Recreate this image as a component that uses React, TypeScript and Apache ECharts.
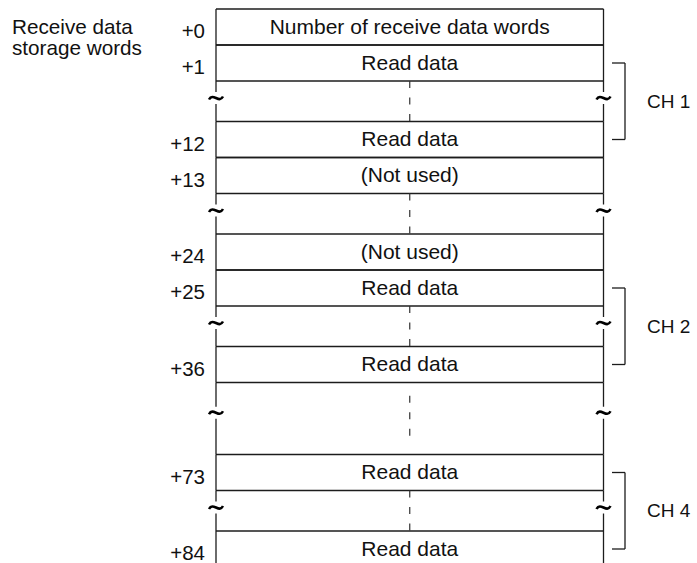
import React, { useEffect, useRef } from 'react';
import * as echarts from 'echarts';

// Word offsets and contents of the receive data storage area
const wordOffsets = ['+0', '+1', '+12', '+13', '+24', '+25', '+36', '+73', '+84'];
const rowTexts = [
  'Number of receive data words',
  'Read data',
  'Read data',
  '(Not used)',
  '(Not used)',
  'Read data',
  'Read data',
  'Read data',
  'Read data',
];
// height (in word rows) of the omitted block that precedes each row
const gapBefore = [0, 0, 1.125, 0, 1.125, 0, 1.125, 2, 1.125];
// channel brackets: first and last row index covered
const channelNames = ['CH 1', 'CH 2', 'CH 4'];
const channelFirstRow = [1, 5, 7];
const channelLastRow = [2, 6, 8];
const sideTitle = ['Receive data', 'storage words'];

const FONT = '"Liberation Sans", Arial, Helvetica, sans-serif';
const FS = 21;
const INK = '#111111';
const LINE = '#1c1c1c';
const LW = 1.3;

export default function App() {
  const ref = useRef<HTMLDivElement>(null);

  useEffect(() => {
    if (!ref.current) return;
    const chart = echarts.init(ref.current, undefined, { renderer: 'svg' });

    let pos = 0;
    const rows: number[][] = wordOffsets.map((_, i) => {
      pos += gapBefore[i];
      const s = pos;
      pos += 1;
      return [s, s + 1, i];
    });
    const gaps: number[][] = [];
    gapBefore.forEach((g, i) => {
      if (g > 0) gaps.push([rows[i][0] - g, rows[i][0]]);
    });
    const brackets = channelNames.map((_, k) => [
      rows[channelFirstRow[k]][0] + 0.5,
      rows[channelLastRow[k]][0] + 0.5,
      k,
    ]);

    const ln = (x1: number, y1: number, x2: number, y2: number, extra: any = {}) => ({
      type: 'line',
      shape: { x1, y1, x2, y2 },
      style: { stroke: LINE, lineWidth: LW, ...extra },
    });

    const option: any = {
      animation: false,
      title: {
        text: sideTitle.join('\n'),
        left: 12,
        top: 16,
        padding: 0,
        textStyle: {
          fontFamily: FONT,
          fontSize: 20.7,
          fontWeight: 'normal',
          color: INK,
          lineHeight: 21,
        },
      },
      grid: { left: 216, right: 93.5, top: 9, bottom: 0 },
      xAxis: { type: 'value', min: 0, max: 1, show: false },
      yAxis: { type: 'value', min: 0, max: 554 / 36, inverse: true, show: false },
      series: [
        {
          type: 'custom',
          clip: false,
          silent: true,
          data: rows,
          renderItem: (params: any, api: any) => {
            const s = api.value(0);
            const e = api.value(1);
            const i = api.value(2);
            const tl = api.coord([0, s]);
            const br = api.coord([1, e]);
            const x0 = tl[0], y0 = tl[1], x1 = br[0], y1 = br[1];
            const ym = (y0 + y1) / 2;
            return {
              type: 'group',
              children: [
                ln(x0, y0, x1, y0),
                ln(x0, y1, x1, y1),
                ln(x0, y0, x0, y1),
                ln(x1, y0, x1, y1),
                {
                  type: 'text',
                  style: {
                    text: rowTexts[i],
                    x: (x0 + x1) / 2,
                    y: ym - 1,
                    align: 'center',
                    verticalAlign: 'middle',
                    fontFamily: FONT,
                    fontSize: FS,
                    fill: INK,
                  },
                },
                {
                  type: 'text',
                  style: {
                    text: wordOffsets[i],
                    x: x0 - 11,
                    y: ym + 3.5,
                    align: 'right',
                    verticalAlign: 'middle',
                    fontFamily: FONT,
                    fontSize: 20.5,
                    fill: INK,
                  },
                },
              ],
            };
          },
        },
        {
          type: 'custom',
          clip: false,
          silent: true,
          data: gaps,
          renderItem: (params: any, api: any) => {
            const tl = api.coord([0, api.value(0)]);
            const br = api.coord([1, api.value(1)]);
            const x0 = tl[0], y0 = tl[1], x1 = br[0], y1 = br[1];
            const ty = y0 + (y1 - y0) * 0.42;
            const children: any[] = [];
            [x0, x1].forEach((x) => {
              children.push(ln(x, y0, x, ty - 6));
              children.push(ln(x, ty + 6, x, y1));
              children.push({
                type: 'bezierCurve',
                shape: {
                  x1: x - 7, y1: ty + 1.5,
                  cpx1: x - 3, cpy1: ty - 6,
                  cpx2: x + 3, cpy2: ty + 6,
                  x2: x + 7, y2: ty - 1.5,
                },
                style: { stroke: '#000', lineWidth: 2.6, fill: null },
              });
            });
            const xm = (x0 + x1) / 2;
            children.push(
              ln(xm, Math.max(y0, ty - 17), xm, Math.min(y1, ty + 24), {
                lineDash: [7, 9.5],
                lineWidth: 1.2,
                stroke: '#333',
              })
            );
            return { type: 'group', children };
          },
        },
        {
          type: 'custom',
          clip: false,
          silent: true,
          data: brackets,
          renderItem: (params: any, api: any) => {
            const a = api.coord([1, api.value(0)]);
            const b = api.coord([1, api.value(1)]);
            const k = api.value(2);
            const xr = a[0];
            const ya = a[1], yb = b[1];
            return {
              type: 'group',
              children: [
                ln(xr + 8.5, ya, xr + 21.5, ya),
                ln(xr + 21.5, ya, xr + 21.5, yb),
                ln(xr + 8.5, yb, xr + 21.5, yb),
                {
                  type: 'text',
                  style: {
                    text: channelNames[k],
                    x: xr + 43.5,
                    y: (ya + yb) / 2,
                    align: 'left',
                    verticalAlign: 'middle',
                    fontFamily: FONT,
                    fontSize: 19,
                    fill: INK,
                  },
                },
              ],
            };
          },
        },
      ],
    };

    chart.setOption(option);
    return () => chart.dispose();
  }, []);

  return (
    <div
      ref={ref}
      style={{ position: 'fixed', left: 0, top: 0, width: 697, height: 563, background: '#fff' }}
    />
  );
}
